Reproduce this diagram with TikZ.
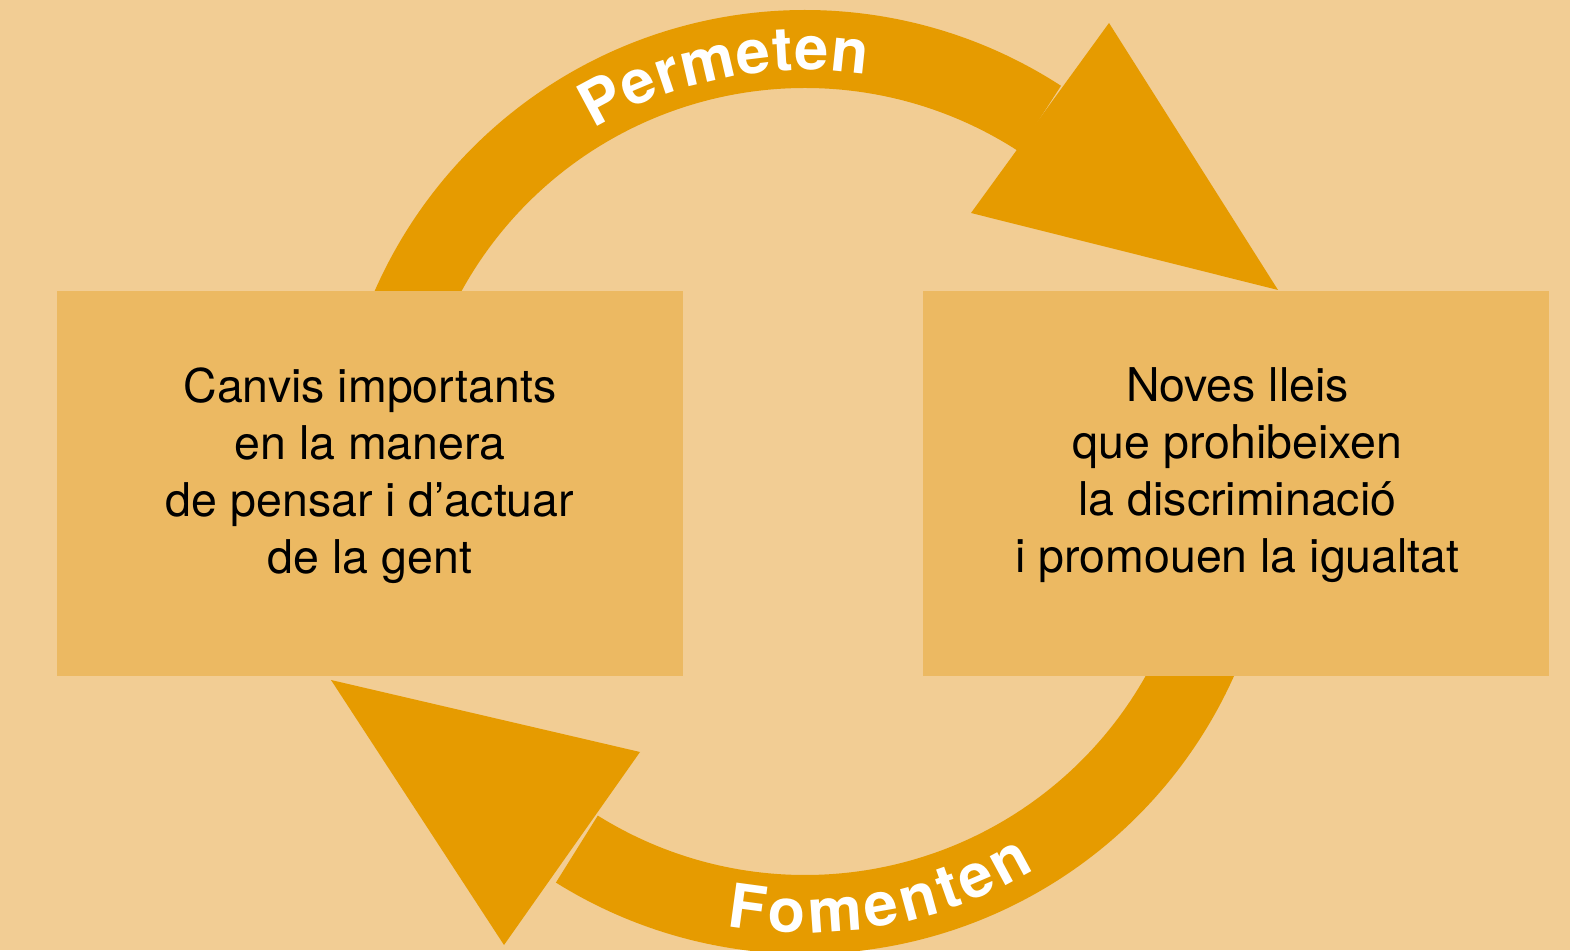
\documentclass[tikz,border=0pt]{standalone}
\usepackage{fontspec}
\setmainfont{TeX Gyre Heros}
\usetikzlibrary{calc}
\definecolor{bgc}{RGB}{242,205,148}
\definecolor{boxc}{RGB}{236,185,98}
\definecolor{arrc}{RGB}{230,155,0}
\newcommand\lblfont{\fontsize{61}{61}\selectfont\bfseries}
% #1 centre, #2 baseline radius, #3 spacing radius, #4 start angle, #5 sign, #6 gap, #7 name, #8 letter/width list
\newcommand\curvedword[8]{%
  \xdef\curang{#4}%
  \foreach \ch/\w [count=\i] in {#8}{%
    \pgfmathsetmacro\cw{\w*0.061}%
    \pgfmathsetmacro\midang{\curang+(#5)*deg((\cw/2)/(#3))}%
    \pgfmathsetmacro\rot{\midang+90*(#5)}%
    \node[lbl,rotate=\rot] (#7-\i) at ([shift={(\midang:#2)}]#1) {\ch};
    \pgfmathsetmacro\nextang{\curang+(#5)*deg((\cw+#6)/(#3))}%
    \xdef\curang{\nextang}%
  }%
}
\begin{document}
\begin{tikzpicture}[x=1pt,y=1pt,
  lbl/.style={text=white,font=\lblfont,inner sep=0pt,anchor=base},
  boxstyle/.style={fill=boxc,draw=none,minimum width=626pt,minimum height=385pt,inner sep=0pt},
  boxtext/.style={align=center,font=\fontsize{46.5}{57}\selectfont,text=black,inner sep=0pt},
  arrowfill/.style={fill=arrc,draw=none}]
\useasboundingbox (0,0) rectangle (1570,950);
\fill[bgc] (0,0) rectangle (1570,950);
\coordinate (c1) at (805,470);
\coordinate (c2) at (805,466);
% top arrow
\fill[arrowfill] ([shift={(170:470)}]c1) arc[start angle=170,end angle=57,radius=470]
  -- ([shift={(57:392)}]c1) arc[start angle=57,end angle=170,radius=392] -- cycle;
\coordinate (ta1) at (1109,927);
\coordinate (ta2) at (1278,660);
\coordinate (ta3) at (971,737);
\fill[arrowfill] (ta1) -- (ta2) -- (ta3) -- cycle;
% bottom arrow
\fill[arrowfill] ([shift={(-10:470)}]c2) arc[start angle=-10,end angle=-122,radius=470]
  -- ([shift={(-122:391)}]c2) arc[start angle=-122,end angle=-10,radius=391] -- cycle;
\coordinate (ba1) at (331,270);
\coordinate (ba2) at (640,198);
\coordinate (ba3) at (504,5);
\fill[arrowfill] (ba1) -- (ba2) -- (ba3) -- cycle;
% boxes
\node[boxstyle] (lbox) at (370,466.5) {};
\node[boxstyle] (rbox) at (1235.5,466.5) {};
\node[boxtext] (ltext) at ($(lbox.center)+(0,8)$) {Canvis importants\\en la manera\\de pensar i d’actuar\\de la gent};
\node[boxtext] (rtext) at ($(rbox.center)+(2,8)$) {Noves lleis\\que prohibeixen\\la discriminació\\i promouen la igualtat};
% curved labels
\curvedword{c1}{410}{430}{120.9}{-1}{2.5}{perm}{P/667,e/556,r/389,m/889,e/556,t/333,e/556,n/611}
\curvedword{c2}{449}{430}{-100.2}{1}{2.5}{fom}{F/611,o/611,m/889,e/556,n/611,t/333,e/556,n/611}
\end{tikzpicture}
\end{document}
